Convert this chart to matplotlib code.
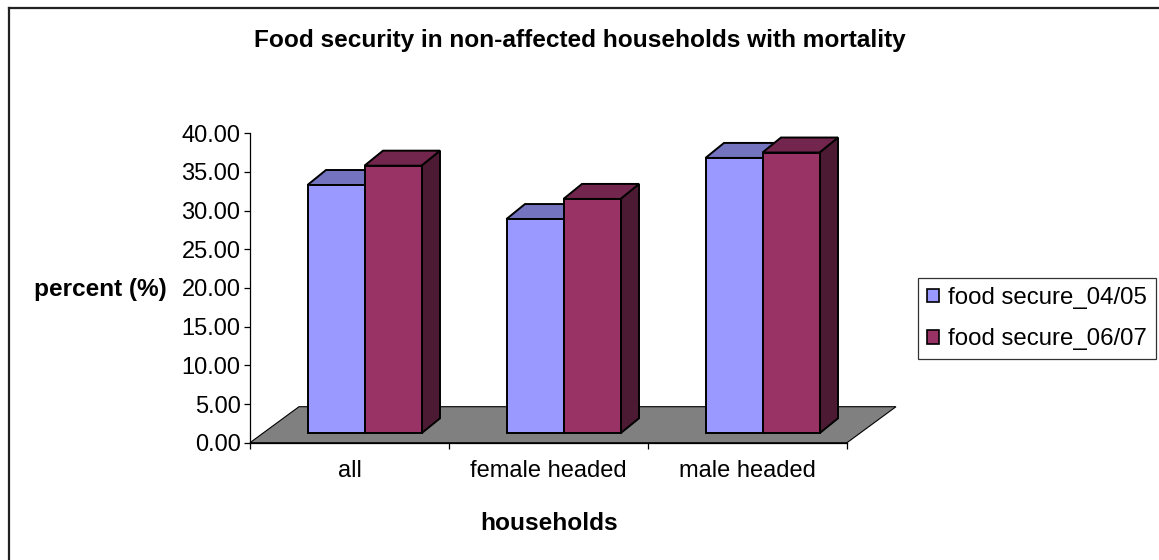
import matplotlib
matplotlib.use("Agg")
import matplotlib.pyplot as plt
from matplotlib.patches import Polygon, Patch
from matplotlib.lines import Line2D

# ---- data -------------------------------------------------------------
categories = ["all", "female headed", "male headed"]
series_names = ["food secure_04/05", "food secure_06/07"]
secure_0405 = [32.1, 27.7, 35.6]
secure_0607 = [34.6, 30.3, 36.3]
y_ticks = [0, 5, 10, 15, 20, 25, 30, 35, 40]

title = "Food security in non-affected households with mortality"
x_title = "households"
y_title = "percent (%)"

# ---- style ------------------------------------------------------------
plt.rcParams['font.family'] = ['Liberation Sans', 'DejaVu Sans']
FS = 17
FS_BOLD = 17.6
FS_LEG = 17.3

front_colors = ["#9999FF", "#993366"]
top_colors = ["#7373BF", "#73264D"]
side_colors = ["#4D4D80", "#4D1A33"]

W, H = 1159, 560
fig = plt.figure(figsize=(W / 100, H / 100), dpi=100)
fig.patch.set_facecolor("white")

# plot area (pixel box of the value/category axes)
ax_left, ax_right, ax_bottom, ax_top = 250, 847, 442.7, 133.3
ax = fig.add_axes([ax_left / W, (H - ax_bottom) / H,
                   (ax_right - ax_left) / W, (ax_bottom - ax_top) / H])
ax.set_xlim(-0.5, 2.5)
ax.set_ylim(0, 40)
ax.set_facecolor("none")

px_per_x = (ax_right - ax_left) / 3.0
px_per_y = (ax_bottom - ax_top) / 40.0


def ux(p):
    return p / px_per_x


def uy(p):
    return p / px_per_y


# oblique 3-D offsets
floor_dx, floor_dy = ux(49), uy(36)
shift_x, bar_base = ux(15), uy(9.4)
depth_dx, depth_dy = ux(18.5), uy(15)
bar_w = ux(57)

# floor
floor = Polygon([(-0.5, 0), (2.5, 0), (2.5 + floor_dx, floor_dy),
                 (-0.5 + floor_dx, floor_dy)], closed=True,
                facecolor="#808080", edgecolor="black", lw=0.8,
                zorder=1, clip_on=False)
ax.add_patch(floor)

series = [secure_0405, secure_0607]
for s, vals in enumerate(series):
    lefts = [i + shift_x - bar_w + s * bar_w for i in range(len(categories))]
    ax.bar(lefts, vals, width=bar_w, bottom=bar_base, align="edge",
           color=front_colors[s], edgecolor="black", linewidth=1.4,
           zorder=3 + 2 * s, clip_on=False, label=series_names[s])
    for x0, v in zip(lefts, vals):
        top = bar_base + v
        x1 = x0 + bar_w
        top_face = Polygon([(x0, top), (x1, top), (x1 + depth_dx, top + depth_dy),
                            (x0 + depth_dx, top + depth_dy)], closed=True,
                           facecolor=top_colors[s], edgecolor="black", lw=1.4,
                           zorder=2 + 2 * s, clip_on=False)
        side_face = Polygon([(x1, bar_base), (x1 + depth_dx, bar_base + depth_dy),
                             (x1 + depth_dx, top + depth_dy), (x1, top)], closed=True,
                            facecolor=side_colors[s], edgecolor="black", lw=1.4,
                            zorder=2 + 2 * s, clip_on=False)
        ax.add_patch(side_face)
        ax.add_patch(top_face)

# axes styling
for sp in ("top", "right"):
    ax.spines[sp].set_visible(False)
for sp in ("left", "bottom"):
    ax.spines[sp].set_color("black")
    ax.spines[sp].set_linewidth(0.9)
    ax.spines[sp].set_zorder(8)

ax.set_yticks(y_ticks)
ax.set_yticklabels([f"{t:.2f}" for t in y_ticks])
ax.tick_params(axis="y", direction="out", length=4.3, width=0.9,
               labelsize=FS, pad=2.5, colors="black")

ax.set_xticks(range(len(categories)))
ax.set_xticklabels(categories)
ax.set_xticks([-0.5, 0.5, 1.5, 2.5], minor=True)
ax.tick_params(axis="x", which="major", length=0, labelsize=FS, pad=12.3)
ax.tick_params(axis="x", which="minor", direction="out", length=4.5, width=0.9)

# titles
fig.text(580 / W, 1 - 47.3 / H, title, ha="center", va="baseline",
         fontsize=FS_BOLD, fontweight="bold")
fig.text(549 / W, 1 - 530 / H, x_title, ha="center", va="baseline",
         fontsize=FS_BOLD, fontweight="bold")
fig.text(100.5 / W, 1 - 296 / H, y_title, ha="center", va="baseline",
         fontsize=FS_BOLD, fontweight="bold")

# legend
handles = [Patch(facecolor=front_colors[k], edgecolor="black", linewidth=1.2)
           for k in range(2)]
leg = fig.legend(handles, series_names, loc="upper left",
                 bbox_to_anchor=(918 / W, 1 - 278 / H), fontsize=FS_LEG,
                 frameon=True, fancybox=False, shadow=False,
                 borderpad=0.38, borderaxespad=0, handlelength=0.5,
                 handleheight=0.5, handletextpad=0.35, labelspacing=0.8)
leg.get_frame().set_edgecolor("black")
leg.get_frame().set_linewidth(0.9)

# chart-area border (top and left edges)
fig.add_artist(Line2D([9 / W, 1], [1 - 8 / H, 1 - 8 / H], color="#222222",
                      lw=1.6, transform=fig.transFigure))
fig.add_artist(Line2D([9 / W, 9 / W], [0, 1 - 8 / H], color="#222222",
                      lw=1.6, transform=fig.transFigure))

fig.savefig("out.png", dpi=100)
